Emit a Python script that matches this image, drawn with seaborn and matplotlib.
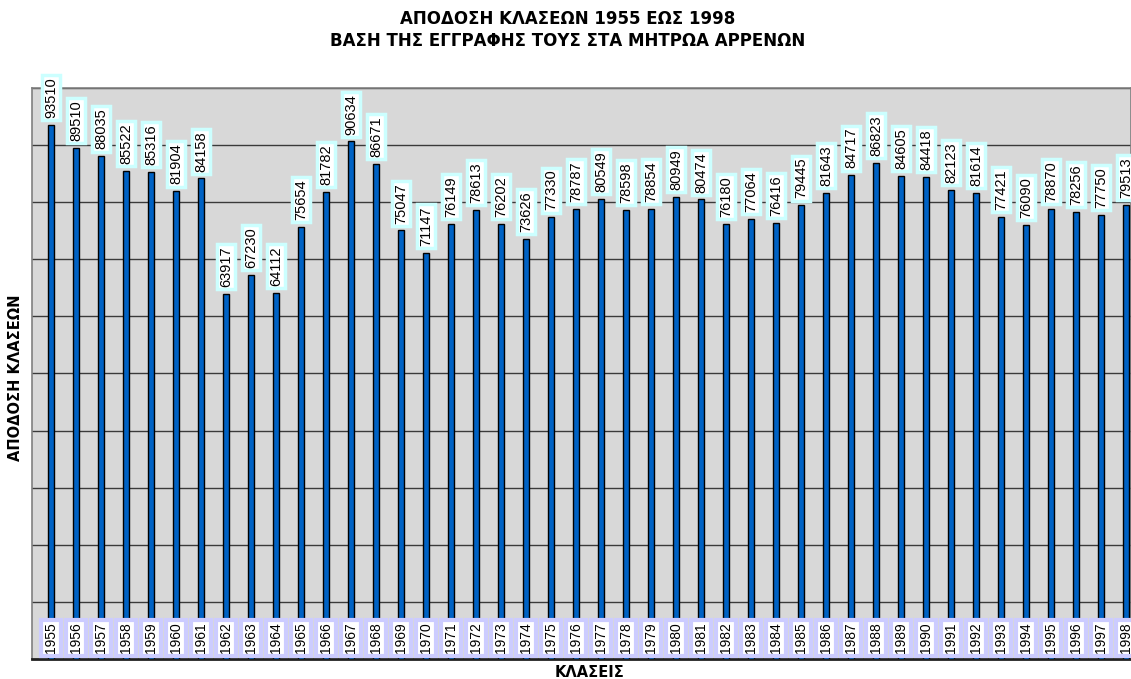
import matplotlib
matplotlib.use("Agg")
import matplotlib.pyplot as plt
import seaborn as sns
import pandas as pd

# -----------------------------
# DATA
# -----------------------------
years = [str(y) for y in range(1955, 1999)]
values = [93510, 89510, 88035, 85522, 85316, 81904, 84158, 63917, 67230, 64112,
          75654, 81782, 90634, 86671, 75047, 71147, 76149, 78613, 76202, 73626,
          77330, 78787, 80549, 78598, 78854, 80949, 80474, 76180, 77064, 76416,
          79445, 81643, 84717, 86823, 84605, 84418, 82123, 81614, 77421, 76090,
          78870, 78256, 77750, 79513]

title_lines = ["ΑΠΟΔΟΣΗ ΚΛΑΣΕΩΝ 1955 ΕΩΣ 1998",
               "ΒΑΣΗ ΤΗΣ ΕΓΓΡΑΦΗΣ ΤΟΥΣ ΣΤΑ ΜΗΤΡΩΑ ΑΡΡΕΝΩΝ"]
x_label = "ΚΛΑΣΕΙΣ"
y_label = "ΑΠΟΔΟΣΗ ΚΛΑΣΕΩΝ"

df = pd.DataFrame({"year": years, "value": values})

# -----------------------------
# STYLE
# -----------------------------
sns.set_style("white")
plt.rcParams["font.family"] = ["Liberation Sans", "DejaVu Sans"]
plt.rcParams["text.color"] = "black"

fig = plt.figure(figsize=(11.31, 6.79), dpi=100)
ax = fig.add_axes([0.0283, 0.0295, 0.9717, 0.8409])
ax.set_facecolor("#D8D8D8")

sns.barplot(data=df, x="year", y="value", color="#0062C4", saturation=1,
            width=0.24, edgecolor="black", linewidth=1, ax=ax, zorder=3)

ax.set_ylim(0, 100000)
ax.set_xlim(-0.76, 43.2)
ax.set_yticks(range(10000, 100001, 10000))
ax.yaxis.grid(True, color="#3A3A3A", linewidth=1)
ax.set_axisbelow(True)
ax.set_xticks([])
ax.set_yticklabels([])
ax.tick_params(left=False, bottom=False)
ax.set_xlabel("")
ax.set_ylabel("")

for side in ["top", "left", "right"]:
    ax.spines[side].set_color("#808080")
    ax.spines[side].set_linewidth(1.2)
ax.spines["bottom"].set_color("#202020")
ax.spines["bottom"].set_linewidth(2)

# value labels above the bars
for i, v in enumerate(values):
    ax.annotate(str(v), xy=(i, v), xytext=(0, 5), textcoords="offset points",
                ha="center", va="bottom", rotation=90, fontsize=10.5,
                zorder=5, annotation_clip=False,
                bbox=dict(boxstyle="square,pad=0.15", facecolor="white",
                          edgecolor="#CCFFFF", linewidth=2.5))

# year labels drawn at the bottom inside the plot
for i, y in enumerate(years):
    ax.annotate(y, xy=(i, 0), xytext=(0, 4), textcoords="offset points",
                ha="center", va="bottom", rotation=90, fontsize=10,
                zorder=5, annotation_clip=False,
                bbox=dict(boxstyle="square,pad=0.2", facecolor="white",
                          edgecolor="#CCCCFF", linewidth=3))

bold = dict(family="DejaVu Sans", fontweight="bold", color="black")
fig.text(0.502, 1 - 18.5 / 679, title_lines[0], ha="center", va="center",
         fontsize=12, **bold)
fig.text(0.502, 1 - 41 / 679, title_lines[1], ha="center", va="center",
         fontsize=12, **bold)
fig.text(0.521, 1 - 672.5 / 679, x_label, ha="center", va="center",
         fontsize=10.5, **bold)
fig.text(0.0133, 1 - 378 / 679, y_label, ha="center", va="center",
         rotation=90, fontsize=10.5, **bold)

fig.savefig("out.png", dpi=100)
plt.close(fig)
